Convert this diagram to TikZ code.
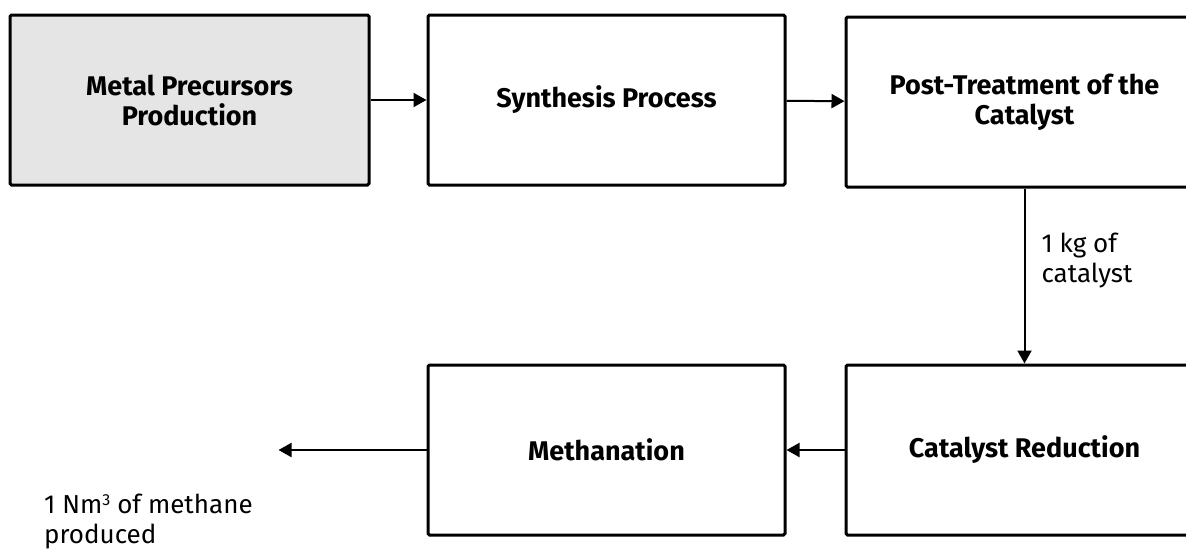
\documentclass[tikz,border=0pt]{standalone}
\usepackage{fontspec}
\setmainfont{Fira Sans}
\usetikzlibrary{arrows.meta, positioning}

\begin{document}
\begin{tikzpicture}[
    x=1pt, y=1pt,
    node distance=58pt and 58pt,
    block/.style={rectangle, draw=black, line width=3pt, rounded corners=1.5pt, fill=white, minimum height=170pt, minimum width=357pt, align=center, font=\fontsize{27}{30}\selectfont\bfseries},
    source/.style={block, fill=black!10, minimum width=359pt},
    flowtext/.style={align=left, inner sep=0pt, font=\fontsize{26}{30}\selectfont},
    line/.style={-{Triangle[length=13pt, width=14pt]}, line width=2pt}
]

\useasboundingbox (0,0) rectangle (1186,-549);

% Nodes
\node[source] (precursors) at (189.5,-100) {Metal Precursors\\Production};
\node[block, right=56pt of precursors] (synthesis) {Synthesis Process};
\node[block, right=58pt of synthesis, yshift=-2pt] (posttreat) {Post-Treatment of the\\Catalyst};
\node[block, below=175pt of posttreat] (reduction) {Catalyst Reduction};
\node[block, left=58pt of reduction] (methanation) {Methanation};
\coordinate[left=148pt of methanation] (product);
\node[flowtext, anchor=north west] (output) at (44,-494) {1 Nm\raisebox{0.3em}{\fontsize{16}{16}\selectfont 3} of methane\\produced};

% Connections
\draw[line] (precursors) -- (synthesis);
\draw[line] (synthesis) -- (posttreat);
\draw[line] (posttreat) -- node[right=16pt, pos=0.41, flowtext] {1 kg of\\catalyst} (reduction);
\draw[line] (reduction) -- (methanation);
\draw[line] (methanation) -- (product);

\end{tikzpicture}
\end{document}
